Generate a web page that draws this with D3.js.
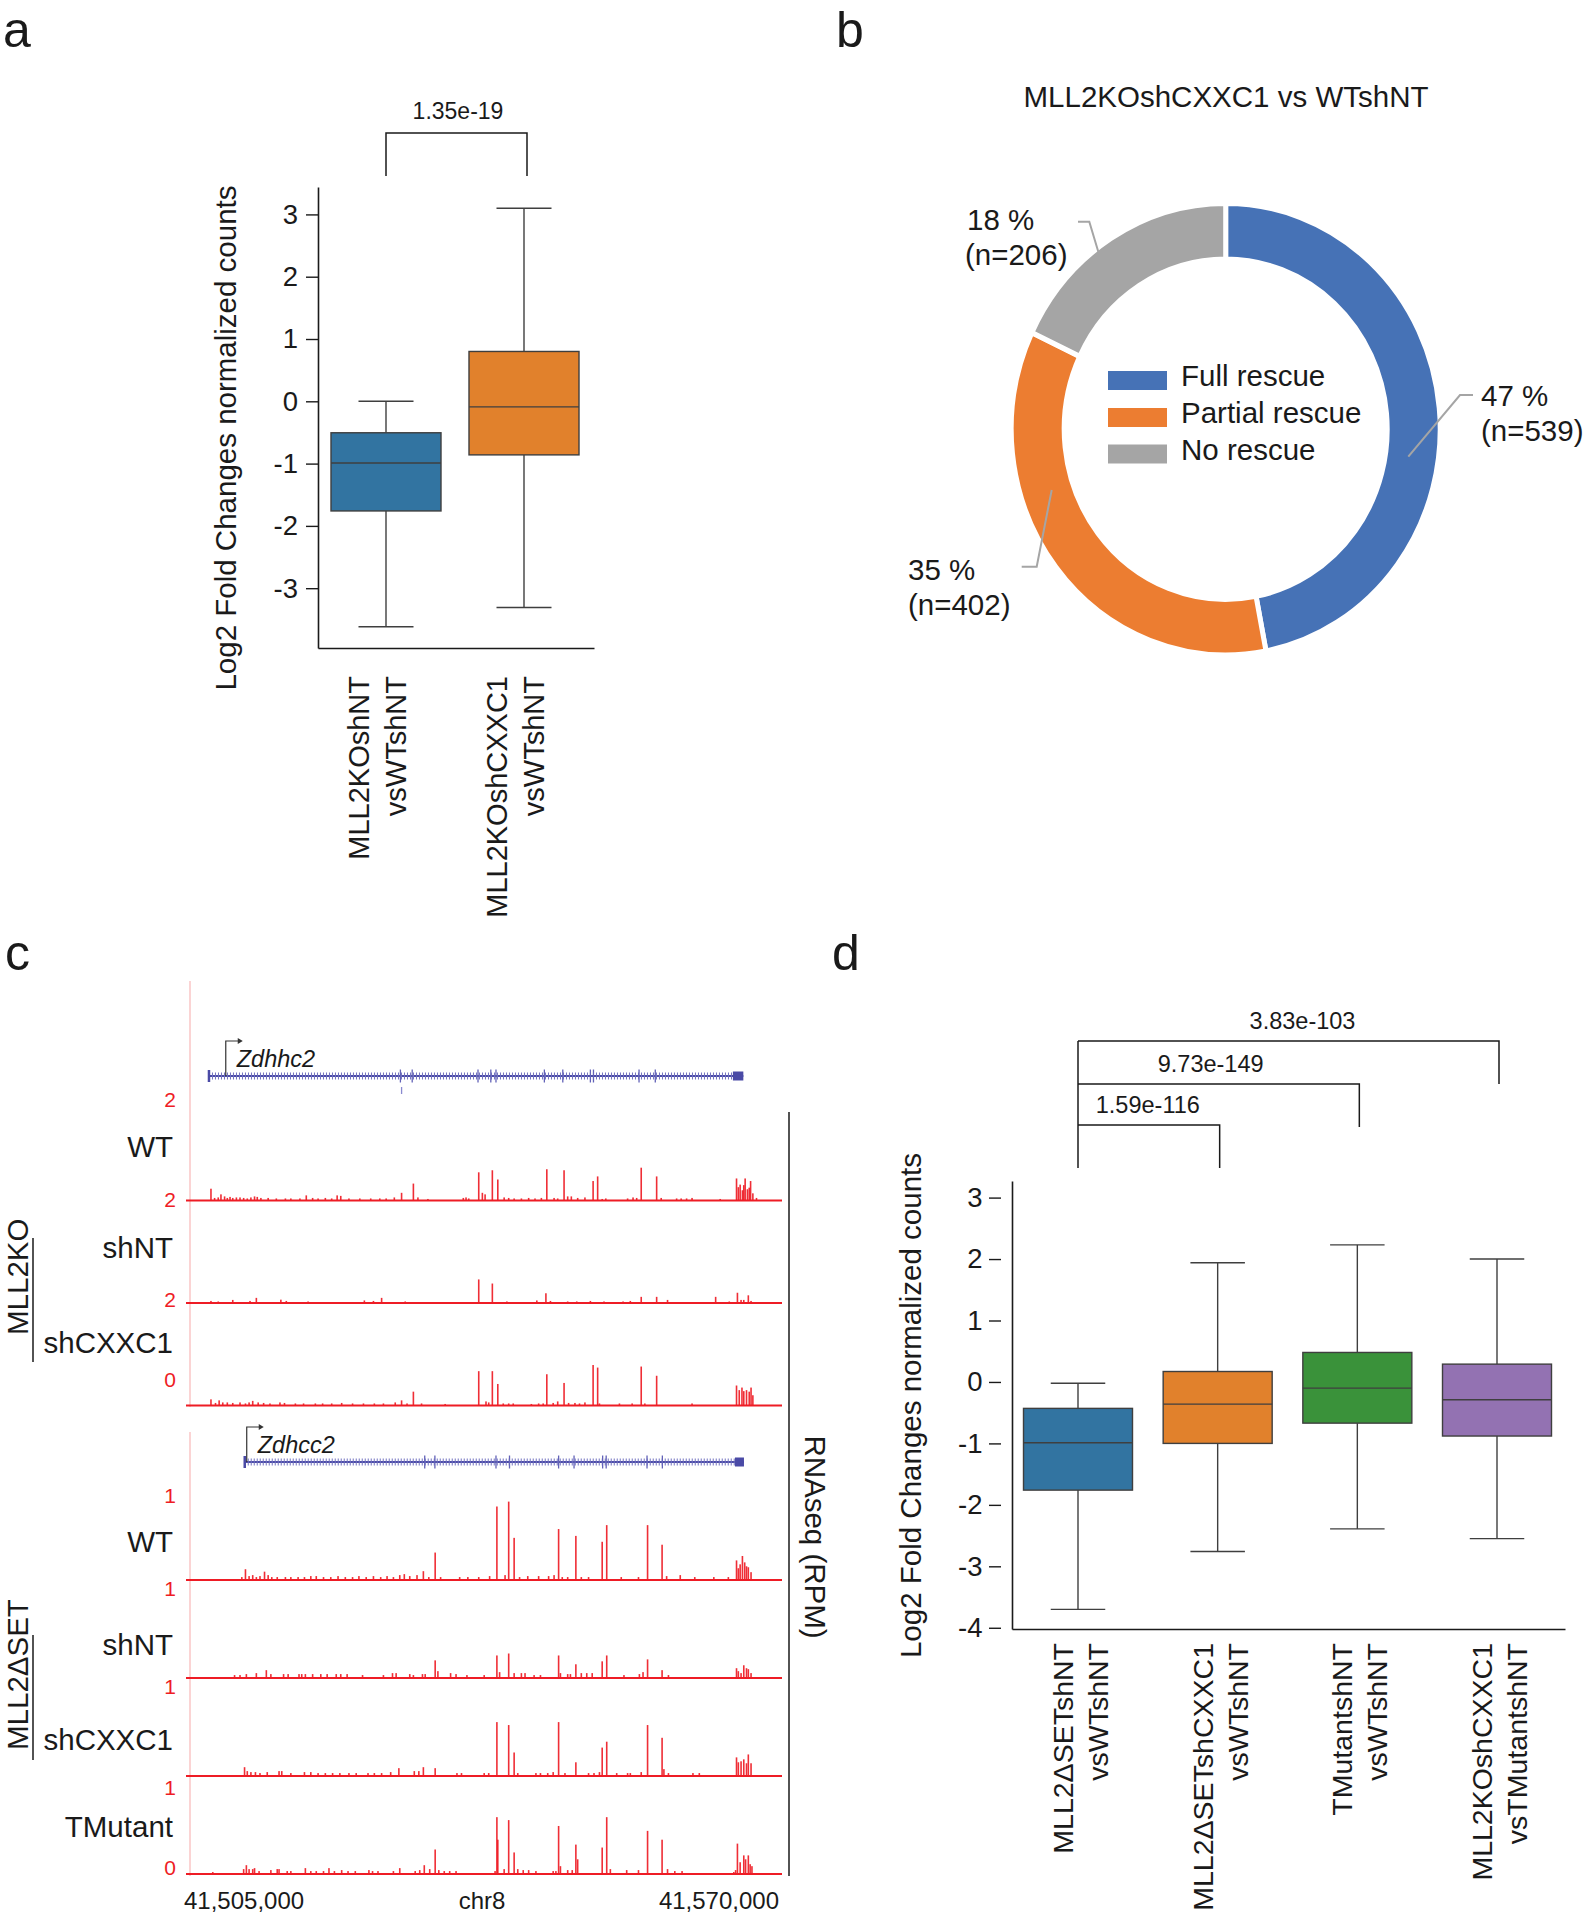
<!DOCTYPE html>
<html><head><meta charset="utf-8">
<script src="https://cdn.jsdelivr.net/npm/d3@7"></script>
<style>
body{margin:0;background:#fff}
svg{display:block}
text{font-family:"Liberation Sans",Arial,Helvetica,sans-serif}
</style>
</head><body>
<svg id="chart" width="1585" height="1920"></svg>
<script>
// ---------------- DATA ----------------
// Panel a
const aCategories = ["MLL2KOshNT vsWTshNT", "MLL2KOshCXXC1 vsWTshNT"];
const aLabelLines = [["MLL2KOshNT","vsWTshNT"],["MLL2KOshCXXC1","vsWTshNT"]];
const aQ1 = [-1.76, -0.86];
const aMedian = [-0.99, -0.09];
const aQ3 = [-0.505, 0.80];
const aWhiskerLow = [-3.62, -3.31];
const aWhiskerHigh = [0.0, 3.10];
const aTicks = [-3, -2, -1, 0, 1, 2, 3];
const aPvalue = "1.35e-19";

// Panel b
const bTitle = "MLL2KOshCXXC1 vs WTshNT";
const bCategories = ["Full rescue", "Partial rescue", "No rescue"];
const bCounts = [539, 402, 206];

// Panel d
const dCategories = ["MLL2ΔSETshNT vsWTshNT","MLL2ΔSETshCXXC1 vsWTshNT","TMutantshNT vsWTshNT","MLL2KOshCXXC1 vsTMutantshNT"];
const dLabelLines = [["MLL2ΔSETshNT","vsWTshNT"],["MLL2ΔSETshCXXC1","vsWTshNT"],["TMutantshNT","vsWTshNT"],["MLL2KOshCXXC1","vsTMutantshNT"]];
const dQ1 = [-1.76, -1.00, -0.67, -0.88];
const dMedian = [-0.99, -0.36, -0.10, -0.29];
const dQ3 = [-0.43, 0.17, 0.48, 0.29];
const dWhiskerLow = [-3.70, -2.76, -2.39, -2.55];
const dWhiskerHigh = [-0.02, 1.94, 2.23, 2.00];
const dTicks = [-4, -3, -2, -1, 0, 1, 2, 3];
const dPvalues = ["3.83e-103", "9.73e-149", "1.59e-116"];
const dPvalueTargets = [3, 2, 1];

// Panel c (positions in kb from 41,505,000; values in RPM)
const cAxisLabels = ["41,505,000", "chr8", "41,570,000"];
const cTopGroup = "MLL2KO";
const cBottomGroup = "MLL2ΔSET";
const cTopTrackNames = ["WT", "shNT", "shCXXC1"];
const cBottomTrackNames = ["WT", "shNT", "shCXXC1", "TMutant"];
const cTopRangeLabels = ["2", "2", "2", "0"];
const cBottomRangeLabels = ["1", "1", "1", "1", "0"];
const geneTopName = "Zdhhc2";
const geneBottomName = "Zdhcc2";
const geneTopSpan = [1.98, 60.85];
const geneTopEndBlock = [59.7, 60.85];
const geneTopTSS = 3.83;
const geneTopExons = [23.07, 24.37, 31.62, 33.03, 33.6, 38.93, 40.96, 44.0, 44.34, 49.36, 51.15];
const geneTopAltExon = [23.2];
const geneBottomSpan = [5.92, 60.92];
const geneBottomEndBlock = [59.93, 60.92];
const geneBottomTSS = 6.14;
const geneBottomExons = [25.75, 26.87, 33.6, 35.09, 40.5, 42.2, 45.35, 45.74, 50.24, 51.93];

const topWT = [[2.2,.23],[3.3,.12],[12.7,.1],[16.1,.1],[16.5,.09],[23.2,.15],[24.5,.33],[25.0,.06],[31.7,.55],[32.1,.15],[32.4,.12],[33.2,.59],[33.8,.41],[39.2,.61],[41.1,.59],[41.5,.08],[44.3,.38],[44.8,.47],[49.6,.64],[51.3,.47],[60.1,.43],[60.3,.26],[60.5,.31],[60.75,.2],[61.05,.43],[61.3,.22],[61.65,.38],[61.9,.14],
 [2.6,.05],[3.0,.06],[3.7,.08],[4.0,.05],[4.3,.07],[4.6,.05],[5.0,.06],[5.4,.06],[5.8,.05],[6.2,.04],[6.6,.06],[7.0,.08],[7.3,.07],[7.7,.05],[8.5,.05],[9.4,.04],[10.4,.04],[11.0,.04],[12.0,.04],[13.4,.05],[14.0,.04],[14.8,.05],[15.5,.04],[17.4,.04],[18.6,.04],[19.8,.04],[20.8,.04],[21.5,.04],[22.4,.06],[26.1,.03],[30.0,.05],[30.3,.06],[30.6,.04],[34.5,.06],[35.0,.05],[35.6,.04],[36.4,.04],[37.2,.05],[37.9,.04],[38.6,.05],[40.0,.05],[40.4,.04],[41.9,.08],[42.6,.05],[43.4,.06],[45.3,.03],[45.7,.04],[48.1,.04],[48.7,.06],[49.1,.05],[51.8,.05],[53.5,.04],[54.0,.04],[54.6,.04],[55.2,.05],[58.3,.03],[60.9,.3],[61.5,.25],[62.3,.05]];
const topShNT = [[2.2,.04],[3.0,.03],[4.6,.06],[6.5,.04],[7.2,.1],[9.9,.065],[10.5,.04],[12.9,.03],[19.1,.05],[20.1,.04],[21.0,.1],[23.6,.03],[31.7,.46],[33.2,.38],[34.8,.03],[38.1,.05],[39.1,.19],[39.6,.04],[41.5,.03],[42.5,.03],[44.0,.04],[45.5,.03],[47.6,.03],[48.4,.04],[49.6,.12],[51.3,.12],[52.5,.06],[57.8,.12],[59.3,.03],[60.2,.2],[60.6,.06],[60.9,.06],[61.4,.15],[61.7,.04]];
const topShCXXC1 = [[2.2,.12],[3.1,.1],[6.8,.09],[23.2,.1],[24.5,.27],[31.7,.67],[33.2,.67],[33.8,.42],[39.2,.61],[41.1,.44],[44.3,.79],[44.8,.74],[49.6,.76],[51.3,.58],[60.1,.39],[60.4,.3],[60.7,.35],[60.9,.28],[61.2,.3],[61.5,.27],[61.7,.35],[61.9,.2],
 [2.7,.05],[3.5,.06],[4.0,.06],[4.6,.05],[5.4,.06],[6.0,.04],[6.4,.06],[7.4,.06],[8.0,.05],[8.7,.04],[9.8,.06],[10.3,.05],[11.5,.04],[12.4,.04],[13.7,.04],[14.5,.04],[15.5,.04],[16.6,.05],[17.8,.04],[19.0,.04],[20.2,.04],[21.2,.04],[22.5,.06],[23.8,.04],[25.4,.04],[28.0,.03],[32.5,.08],[32.8,.06],[34.4,.04],[35.0,.04],[35.5,.04],[37.5,.03],[38.3,.04],[38.8,.04],[39.9,.05],[40.4,.08],[41.6,.05],[42.3,.05],[42.8,.04],[43.4,.06],[45.0,.04],[47.2,.04],[48.6,.04],[50.0,.04],[55.2,.04]];
const botWT = [[6.0,.11],[8.1,.085],[23.5,.06],[25.6,.09],[26.9,.28],[33.7,.75],[35.0,.80],[35.6,.43],[40.5,.52],[42.4,.45],[45.3,.39],[45.8,.56],[50.3,.56],[51.9,.36],[60.1,.2],[60.3,.12],[60.5,.16],[60.75,.245],[61.0,.18],[61.2,.14],[61.4,.13],[61.7,.08],
 [5.6,.03],[6.4,.04],[6.8,.05],[7.2,.03],[7.6,.04],[8.5,.05],[8.9,.03],[9.5,.03],[10.4,.03],[11.0,.03],[11.8,.03],[12.5,.03],[13.2,.04],[13.8,.04],[14.6,.03],[15.4,.03],[16.2,.04],[17.0,.03],[17.8,.03],[18.5,.04],[19.3,.03],[20.1,.04],[20.9,.03],[21.6,.04],[22.3,.03],[23.0,.05],[24.1,.04],[24.9,.05],[26.2,.03],[27.5,.03],[29.6,.03],[30.5,.03],[31.7,.03],[32.9,.04],[34.6,.05],[36.2,.03],[37.1,.04],[38.3,.04],[39.4,.04],[40.0,.05],[40.9,.03],[41.5,.03],[43.0,.03],[43.8,.03],[47.4,.03],[49.3,.03],[52.4,.04],[53.9,.05],[55.5,.03],[57.6,.03],[59.2,.03]];
const botShNT = [[4.8,.03],[5.4,.03],[6.1,.04],[7.2,.05],[8.3,.08],[8.8,.04],[10.2,.04],[10.7,.04],[11.9,.04],[12.2,.04],[12.6,.04],[13.4,.04],[14.3,.04],[15.0,.04],[16.0,.04],[16.5,.04],[17.2,.04],[18.9,.03],[21.2,.03],[22.2,.05],[22.6,.05],[24.1,.04],[24.5,.03],[25.5,.04],[25.8,.04],[26.9,.18],[27.2,.07],[28.6,.05],[29.2,.04],[30.4,.03],[32.3,.03],[33.7,.23],[34.0,.06],[35.0,.25],[35.6,.05],[36.4,.05],[36.8,.05],[37.8,.03],[38.5,.03],[40.5,.23],[40.7,.05],[41.5,.04],[41.8,.04],[42.4,.14],[43.0,.05],[43.6,.05],[44.2,.05],[45.3,.17],[45.8,.23],[47.7,.03],[49.4,.04],[49.8,.06],[50.3,.19],[51.9,.08],[52.6,.03],[60.1,.1],[60.3,.07],[60.6,.05],[60.9,.13],[61.2,.1],[61.4,.09],[61.7,.05]];
const botShCXXC1 = [[5.9,.09],[6.2,.05],[6.6,.04],[7.1,.04],[7.6,.03],[8.4,.04],[9.7,.05],[10.0,.05],[11.0,.03],[12.5,.04],[13.2,.04],[14.0,.03],[14.8,.03],[15.6,.03],[16.4,.03],[17.4,.03],[18.2,.03],[19.5,.03],[20.2,.03],[21.0,.03],[22.0,.04],[22.9,.08],[24.6,.05],[25.1,.05],[25.6,.09],[26.9,.08],[29.3,.03],[29.8,.03],[32.3,.03],[32.8,.03],[33.7,.55],[35.0,.52],[35.6,.24],[36.0,.03],[38.0,.03],[38.5,.03],[39.3,.03],[39.9,.04],[40.5,.55],[41.2,.03],[42.4,.14],[43.8,.03],[44.4,.03],[45.0,.04],[45.3,.29],[45.8,.35],[46.9,.03],[48.1,.03],[48.4,.03],[49.6,.04],[50.3,.52],[51.9,.39],[52.1,.07],[52.6,.03],[55.3,.03],[56.0,.03],[60.1,.19],[60.3,.14],[60.6,.15],[60.9,.17],[61.2,.13],[61.4,.22],[61.7,.13]];
const botTMutant = [[2.4,.02],[5.8,.05],[6.1,.09],[6.4,.05],[6.8,.05],[7.0,.06],[7.5,.03],[8.8,.04],[9.5,.05],[9.7,.05],[10.6,.03],[11.0,.03],[12.6,.06],[13.2,.03],[13.8,.03],[14.6,.03],[15.2,.06],[15.8,.03],[16.6,.04],[17.3,.03],[18.1,.03],[19.6,.04],[20.0,.03],[20.6,.03],[22.3,.03],[23.0,.06],[24.7,.03],[25.2,.04],[25.7,.09],[26.3,.05],[26.9,.25],[27.3,.04],[27.9,.03],[28.5,.03],[29.2,.03],[33.5,.03],[33.7,.58],[33.8,.35],[34.5,.05],[35.0,.55],[35.6,.22],[36.0,.05],[36.6,.04],[37.2,.04],[38.0,.03],[39.9,.03],[40.2,.03],[40.5,.49],[40.7,.08],[41.5,.04],[42.0,.04],[42.4,.30],[42.6,.15],[45.3,.27],[45.8,.58],[46.2,.05],[48.0,.04],[49.3,.04],[50.3,.44],[51.9,.35],[52.5,.05],[53.3,.03],[54.1,.03],[59.8,.02],[60.0,.04],[60.2,.31],[60.5,.12],[60.9,.19],[61.1,.15],[61.4,.19],[61.6,.1],[61.8,.08]];

// ---------------- STYLE ----------------
const INK = "#1a1a1a";
const BOXLINE = "#3f3f3f";
const boxColors = ["#3274a1", "#e1812c", "#3a923a", "#9372b2"];
const donutColors = ["#4672b6", "#ec7d31", "#a5a5a5"];
const RED = "#ee1c25";
const GENE = "#4a4aa6";

const svg = d3.select("#chart");

function txt(g, x, y, s, size, opts = {}) {
  const t = g.append("text").attr("x", x).attr("y", y).text(s)
    .attr("font-size", size).attr("fill", opts.fill || INK)
    .attr("text-anchor", opts.anchor || "start");
  if (opts.rotate !== undefined) t.attr("transform", `rotate(${opts.rotate},${x},${y})`);
  if (opts.italic) t.attr("font-style", "italic");
  if (opts.baseline) t.attr("dominant-baseline", opts.baseline);
  return t;
}

// panel letters
[["a", 3, 47], ["b", 836, 47], ["c", 5, 970], ["d", 832, 970]].forEach(([l, x, y]) => txt(svg, x, y, l, 50));

// ---------------- BOXPLOT helper ----------------
function boxplot(g, x, y, n, q1, med, q3, lo, hi, bw) {
  for (let i = 0; i < n; i++) {
    const cx = x(i);
    const b = g.append("g");
    b.append("line").attr("x1", cx).attr("x2", cx).attr("y1", y(hi[i])).attr("y2", y(q3[i]))
      .attr("stroke", BOXLINE).attr("stroke-width", 1.4);
    b.append("line").attr("x1", cx).attr("x2", cx).attr("y1", y(q1[i])).attr("y2", y(lo[i]))
      .attr("stroke", BOXLINE).attr("stroke-width", 1.4);
    [hi[i], lo[i]].forEach(v => b.append("line").attr("x1", cx - bw / 4).attr("x2", cx + bw / 4)
      .attr("y1", y(v)).attr("y2", y(v)).attr("stroke", BOXLINE).attr("stroke-width", 1.4));
    b.append("rect").attr("x", cx - bw / 2).attr("width", bw).attr("y", y(q3[i]))
      .attr("height", y(q1[i]) - y(q3[i])).attr("fill", boxColors[i])
      .attr("stroke", BOXLINE).attr("stroke-width", 1.4);
    b.append("line").attr("x1", cx - bw / 2).attr("x2", cx + bw / 2).attr("y1", y(med[i])).attr("y2", y(med[i]))
      .attr("stroke", BOXLINE).attr("stroke-width", 1.4);
  }
}
function styleAxis(g, size) {
  g.attr("font-family", null).attr("font-size", null);
  g.selectAll("text").attr("font-size", size).attr("fill", INK);
  g.selectAll("line").attr("stroke", INK).attr("stroke-width", 1.4);
  g.select(".domain").attr("stroke", INK).attr("stroke-width", 1.6);
}

// ---------------- PANEL A ----------------
{
  const g = svg.append("g");
  const y = d3.scaleLinear().domain([-3.96, 3.44]).range([648, 187]);
  const x = d3.scalePoint().domain(d3.range(aCategories.length)).range([386, 524]);
  const ax = g.append("g").attr("transform", "translate(318,0)")
    .call(d3.axisLeft(y).tickValues(aTicks).tickSize(12).tickSizeOuter(0).tickPadding(8).tickFormat(d => String(d)));
  styleAxis(ax, 27.5);
  const xs = d3.scaleLinear().domain([0, 1]).range([318, 594]);
  const bx = g.append("g").attr("transform", "translate(0,648)").call(d3.axisBottom(xs).ticks(0).tickSizeOuter(0));
  styleAxis(bx, 27);
  boxplot(g, x, y, aCategories.length, aQ1, aMedian, aQ3, aWhiskerLow, aWhiskerHigh, 110);
  aLabelLines.forEach((lines, i) => {
    txt(g, x(i) - 17, 676, lines[0], 29, { anchor: "end", rotate: -90 });
    txt(g, x(i) + 20, 676, lines[1], 29, { anchor: "end", rotate: -90 });
  });
  txt(g, 236, 438, "Log2 Fold Changes normalized counts", 29.5, { anchor: "middle", rotate: -90 });
  const by = 133;
  g.append("path").attr("d", `M${x(0)},176V${by}H${x(1) + 3}V176`).attr("fill", "none").attr("stroke", INK).attr("stroke-width", 1.5);
  txt(g, (x(0) + x(1)) / 2 + 3, by - 14, aPvalue, 23, { anchor: "middle" });
}

// ---------------- PANEL B ----------------
{
  const g = svg.append("g");
  txt(g, 1226, 107, bTitle, 29.5, { anchor: "middle" });
  const total = d3.sum(bCounts);
  const pie = d3.pie().sort(null).value(d => d)(bCounts);
  const arc = d3.arc().innerRadius(161.5).outerRadius(214.5);
  const dg = g.append("g").attr("transform", "translate(1225.7,429.2) scale(1,1.053)");
  dg.selectAll("path").data(pie).join("path").attr("d", arc)
    .attr("fill", (d, i) => donutColors[i]).attr("stroke", "#fff").attr("stroke-width", 5).attr("stroke-linejoin", "miter");
  const legY = [371, 408, 444.5];
  bCategories.forEach((c, i) => {
    g.append("rect").attr("x", 1108).attr("y", legY[i]).attr("width", 59).attr("height", 19).attr("fill", donutColors[i]);
    txt(g, 1181, legY[i] + 15, c, 29.5);
  });
  const lab = [
    { x: 1481, y1: 406, pts: [[1473, 395], [1460, 395], [1408.3, 456.7]] },
    { x: 908, y1: 580, pts: [[1021.7, 566.7], [1036.7, 566.7], [1051.7, 490]] },
    { x: 965, y1: 230, pts: [[1078, 221.7], [1089.3, 221.7], [1098.3, 251.7]] }
  ];
  bCounts.forEach((n, i) => {
    const L = lab[i];
    g.append("path").attr("d", d3.line()(L.pts)).attr("fill", "none").attr("stroke", "#a5a5a5").attr("stroke-width", 2);
    txt(g, L.x + (i === 2 ? 2 : 0), L.y1, Math.round(n / total * 100) + " %", 29.5);
    txt(g, L.x, L.y1 + 35, "(n=" + n + ")", 29.5);
  });
}

// ---------------- PANEL C ----------------
{
  const g = svg.append("g");
  const x = d3.scaleLinear().domain([0, 65]).range([191, 781]);
  g.append("line").attr("x1", 190).attr("x2", 190).attr("y1", 981).attr("y2", 1407).attr("stroke", "#f8b8b8").attr("stroke-width", 1.2);
  g.append("line").attr("x1", 190).attr("x2", 190).attr("y1", 1432).attr("y2", 1876).attr("stroke", "#f8b8b8").attr("stroke-width", 1.2);

  function gene(gy, span, endBlock, exons, tss, name, alt) {
    const gg = g.append("g");
    gg.append("line").attr("x1", x(span[0])).attr("x2", x(span[1])).attr("y1", gy).attr("y2", gy)
      .attr("stroke", GENE).attr("stroke-width", 2);
    gg.append("line").attr("x1", x(span[0])).attr("x2", x(endBlock[0])).attr("y1", gy).attr("y2", gy)
      .attr("stroke", "#7272c0").attr("stroke-width", 7).attr("stroke-dasharray", "1 2");
    gg.append("line").attr("x1", x(span[0])).attr("x2", x(span[0])).attr("y1", gy - 6).attr("y2", gy + 6)
      .attr("stroke", GENE).attr("stroke-width", 2.5);
    exons.forEach(e => gg.append("line").attr("x1", x(e)).attr("x2", x(e)).attr("y1", gy - 6.5).attr("y2", gy + 6.5)
      .attr("stroke", "#6262b8").attr("stroke-width", 1.3));
    if (alt) alt.forEach(e => gg.append("line").attr("x1", x(e)).attr("x2", x(e)).attr("y1", gy + 11).attr("y2", gy + 18)
      .attr("stroke", "#8a8ad0").attr("stroke-width", 1.3));
    gg.append("rect").attr("x", x(endBlock[0])).attr("width", x(endBlock[1]) - x(endBlock[0]))
      .attr("y", gy - 4.5).attr("height", 9).attr("fill", GENE);
    const tx = x(tss);
    gg.append("path").attr("d", `M${tx},${gy}V${gy - 35}H${tx + 13}`).attr("fill", "none").attr("stroke", "#333").attr("stroke-width", 1.2);
    gg.append("path").attr("d", `M${tx + 17},${gy - 35}l-5,-3v6z`).attr("fill", "#333");
    txt(gg, tx + 11, gy - 9, name, 23.5, { italic: true });
  }
  gene(1076, geneTopSpan, geneTopEndBlock, geneTopExons, geneTopTSS, geneTopName, geneTopAltExon);
  gene(1462, geneBottomSpan, geneBottomEndBlock, geneBottomExons, geneBottomTSS, geneBottomName, null);

  function track(data, base, h, max) {
    const y = d3.scaleLinear().domain([0, max]).range([base, base - h]);
    const tg = g.append("g");
    tg.selectAll("rect").data(data).join("rect")
      .attr("x", d => x(d[0]) - 0.8).attr("width", 1.6)
      .attr("y", d => y(d[1])).attr("height", d => base - y(d[1]))
      .attr("fill", RED).attr("fill-opacity", 0.92);
    tg.append("line").attr("x1", 186).attr("x2", 782).attr("y1", base).attr("y2", base)
      .attr("stroke", RED).attr("stroke-width", 2);
  }
  const topData = [topWT, topShNT, topShCXXC1];
  const topBase = i => 1200.5 + i * 102.5;
  topData.forEach((d, i) => track(d, topBase(i), 102.5, 2));
  const botData = [botWT, botShNT, botShCXXC1, botTMutant];
  const botBase = i => 1580 + i * 98;
  botData.forEach((d, i) => track(d, botBase(i), 98, 1));

  const topRangeY = [1099, 1199, 1299.5, 1379];
  cTopRangeLabels.forEach((l, i) => txt(g, 176, topRangeY[i], l, 21, { anchor: "end", fill: RED, baseline: "central" }));
  const botRangeY = [1495.7, 1588, 1686, 1787.3, 1867.3];
  cBottomRangeLabels.forEach((l, i) => txt(g, 176, botRangeY[i], l, 21, { anchor: "end", fill: RED, baseline: "central" }));

  const topNameY = [1157, 1258, 1353];
  cTopTrackNames.forEach((n, i) => txt(g, 173, topNameY[i], n, 29.5, { anchor: "end" }));
  const botNameY = [1552, 1655, 1750, 1837];
  cBottomTrackNames.forEach((n, i) => txt(g, 173, botNameY[i], n, 29.5, { anchor: "end" }));

  txt(g, 28, 1335, cTopGroup, 29.5, { rotate: -90 });
  g.append("line").attr("x1", 33).attr("x2", 33).attr("y1", 1238).attr("y2", 1362).attr("stroke", INK).attr("stroke-width", 1.5);
  txt(g, 28, 1750, cBottomGroup, 29.5, { rotate: -90 });
  g.append("line").attr("x1", 33).attr("x2", 33).attr("y1", 1635).attr("y2", 1760).attr("stroke", INK).attr("stroke-width", 1.5);

  g.append("line").attr("x1", 789).attr("x2", 789).attr("y1", 1112).attr("y2", 1876).attr("stroke", INK).attr("stroke-width", 1.5);
  txt(g, 805, 1537, "RNAseq (RPM)", 29.5, { anchor: "middle", rotate: 90 });

  txt(g, 184, 1909, cAxisLabels[0], 24);
  txt(g, (x(0) + x(65)) / 2 - 4, 1909, cAxisLabels[1], 24, { anchor: "middle" });
  txt(g, 779, 1909, cAxisLabels[2], 24, { anchor: "end" });
}

// ---------------- PANEL D ----------------
{
  const g = svg.append("g");
  const y = d3.scaleLinear().domain([-4.02, 3.27]).range([1629, 1181]);
  const x = d3.scalePoint().domain(d3.range(dCategories.length)).range([1078, 1497]);
  const ax = g.append("g").attr("transform", "translate(1012,0)")
    .call(d3.axisLeft(y).tickValues(dTicks).tickSize(0).tickPadding(29.5).tickFormat(d => String(d)));
  styleAxis(ax, 27.5);
  ax.selectAll(".tick").append("line").attr("x1", -23).attr("x2", -11).attr("stroke", INK).attr("stroke-width", 1.4);
  const xs = d3.scaleLinear().domain([0, 1]).range([1012, 1565]);
  const bx = g.append("g").attr("transform", "translate(0,1629)").call(d3.axisBottom(xs).ticks(0).tickSizeOuter(0));
  styleAxis(bx, 27);
  boxplot(g, x, y, dCategories.length, dQ1, dMedian, dQ3, dWhiskerLow, dWhiskerHigh, 109);
  dLabelLines.forEach((lines, i) => {
    txt(g, x(i) - 5, 1643, lines[0], 28.5, { anchor: "end", rotate: -90 });
    txt(g, x(i) + 30, 1643, lines[1], 28.5, { anchor: "end", rotate: -90 });
  });
  txt(g, 921, 1405.5, "Log2 Fold Changes normalized counts", 29.5, { anchor: "middle", rotate: -90 });
  const levels = [1041, 1084, 1125];
  const labelShift = [15, -7, 0];
  g.append("line").attr("x1", x(0)).attr("x2", x(0)).attr("y1", levels[0]).attr("y2", levels[2] + 43)
    .attr("stroke", INK).attr("stroke-width", 1.5);
  dPvalues.forEach((p, k) => {
    const t = dPvalueTargets[k];
    const ly = levels[k];
    g.append("path").attr("d", `M${x(0)},${ly}H${x(t) + 2}V${ly + 43}`).attr("fill", "none").attr("stroke", INK).attr("stroke-width", 1.5);
    txt(g, (x(0) + x(t)) / 2 + labelShift[k], ly - 12, p, 23.5, { anchor: "middle" });
  });
}
</script>
</body></html>
